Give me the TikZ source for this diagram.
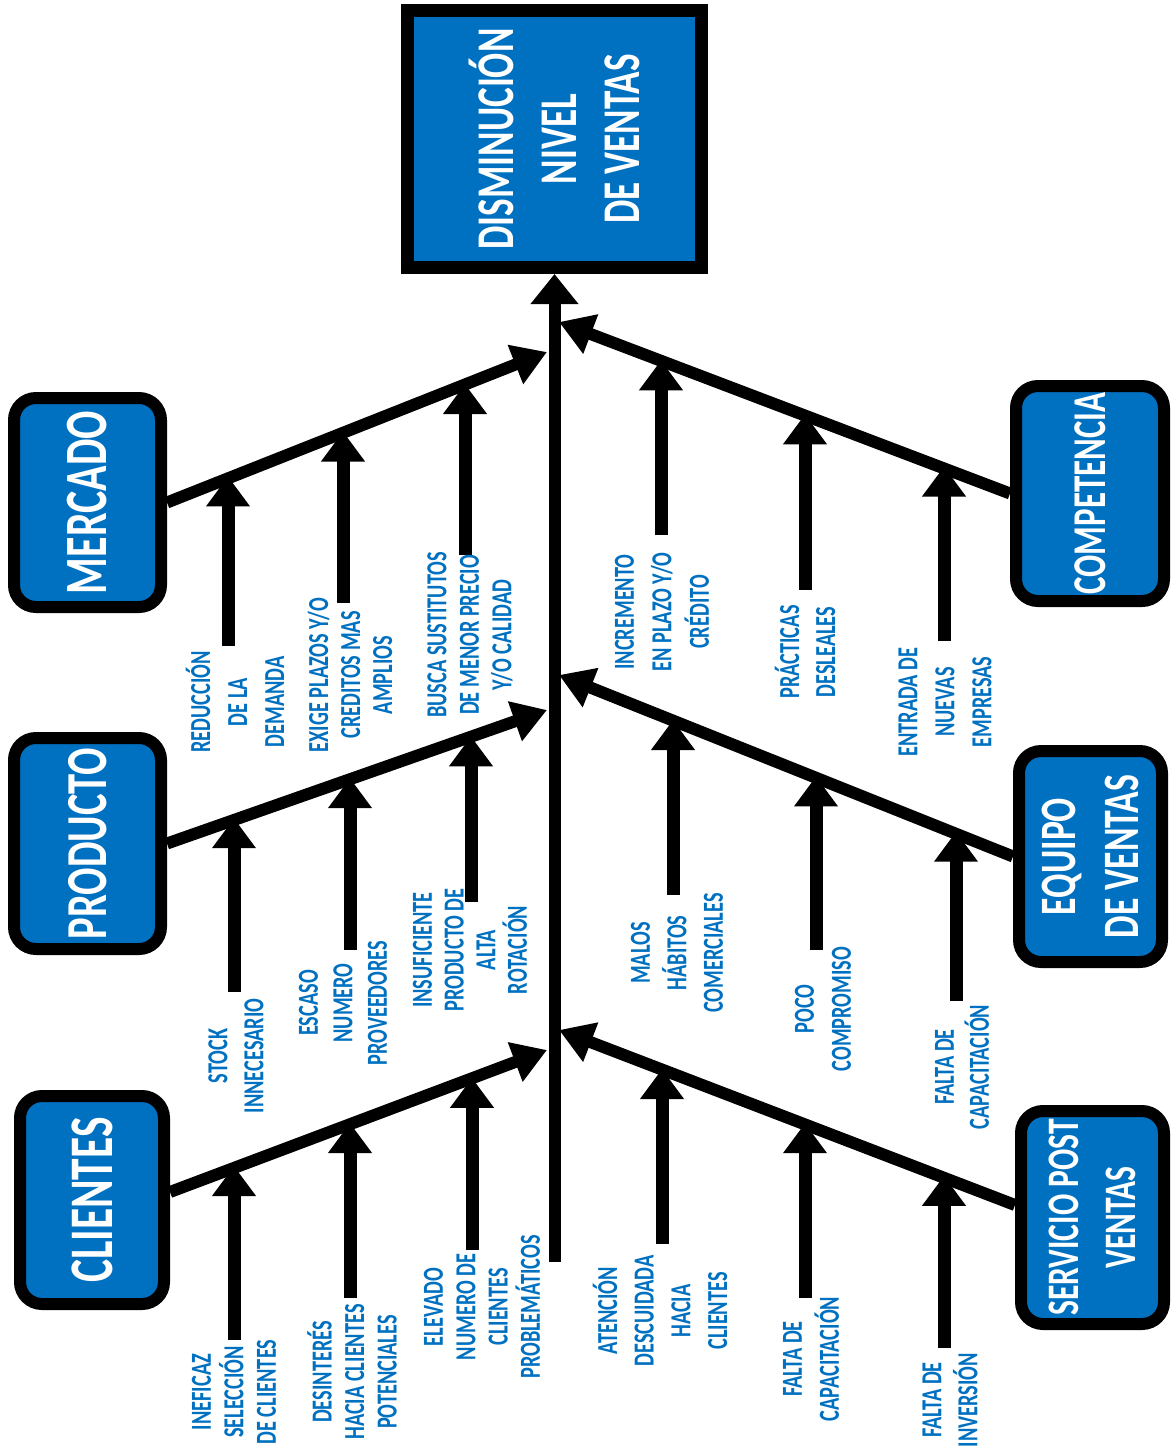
\documentclass[tikz,border=0pt]{standalone}
\usepackage{fontspec}
\setmainfont{Carlito}[FakeStretch=0.7]
\usetikzlibrary{arrows.meta}
\definecolor{azul}{HTML}{0070C0}
\begin{document}
\begin{tikzpicture}[x=1pt,y=-1pt,
  cat/.style={draw=black, line width=12pt, fill=azul, rounded corners=22pt, rotate=90,
    text=white, align=center, inner sep=0pt},
  lab/.style={rotate=90, text=azul, align=center, inner sep=0pt,
    font=\bfseries\fontsize{29}{#1}\selectfont},
  sub/.style={line width=13pt, -{Triangle[width=42pt,length=30pt]}},
  bone/.style={line width=12pt, -{Triangle[width=40pt,length=34pt]}},
  spine/.style={line width=12pt, -{Triangle[width=46pt,length=30pt]}}
]
\fill[white] (0,0) rectangle (1173,1452);
\useasboundingbox (0,0) rectangle (1173,1452);

% head
\node[cat, line width=13pt, rounded corners=0pt, minimum width=257pt, minimum height=294pt,
  font=\bfseries\fontsize{53}{63}\selectfont] (top) at (554.5,139) {DISMINUCIÓN\\NIVEL\\DE VENTAS};

% category boxes
\node[cat, minimum width=209pt, minimum height=147pt, font=\bfseries\fontsize{60}{62}\selectfont] (mer) at (87.5,502.5) {MERCADO};
\node[cat, minimum width=211pt, minimum height=147pt, font=\bfseries\fontsize{58}{62}\selectfont] (pro) at (87.5,843.5) {PRODUCTO};
\node[cat, minimum width=208pt, minimum height=144pt, font=\bfseries\fontsize{62}{62}\selectfont] (cli) at (92,1200) {CLIENTES};
\node[cat, minimum width=215pt, minimum height=148pt, font=\bfseries\fontsize{47}{62}\selectfont] (com) at (1090,493.5) {COMPETENCIA};
\node[cat, minimum width=211pt, minimum height=143pt, font=\bfseries\fontsize{51}{63}\selectfont] (equ) at (1090.5,856.5) {EQUIPO\\DE VENTAS};
\node[cat, minimum width=213pt, minimum height=143pt, font=\bfseries\fontsize{45}{57}\selectfont] (ser) at (1092.5,1217.5) {SERVICIO POST\\VENTAS};

% spine
\coordinate (sby) at (0,1262);
\coordinate (sb) at (top.west |- sby);
\draw[spine] (sb) -- (top.west);

% junctions on spine
\coordinate (jm) at (547,352);
\coordinate (jp) at (547,710);
\coordinate (jc) at (547,1050);
\coordinate (jk) at (559,322);
\coordinate (je) at (559,675);
\coordinate (js) at (559,1030);
\coordinate (cy) at (0,1192);
\coordinate (sy) at (0,1205);

% main bones
\draw[bone] (mer.south) -- (jm);
\draw[bone] (pro.south) -- (jp);
\draw[bone] (cli.south |- cy) -- (jc);
\draw[bone] (com.north) -- (jk);
\draw[bone] (equ.north) -- (je);
\draw[bone] (ser.north |- sy) -- (js);

% sub arrows: MERCADO
\coordinate (m1f) at (228,646);   \coordinate (m1t) at (228,476.4);
\coordinate (m2f) at (343,603);   \coordinate (m2t) at (343,431.5);
\coordinate (m3f) at (465,555);   \coordinate (m3t) at (465,384.0);
% PRODUCTO
\coordinate (p1f) at (234,992);   \coordinate (p1t) at (234,818.2);
\coordinate (p2f) at (350,950);   \coordinate (p2t) at (350,778.1);
\coordinate (p3f) at (471,902);   \coordinate (p3t) at (471,736.3);
% CLIENTES
\coordinate (c1f) at (234,1340);  \coordinate (c1t) at (234,1166.0);
\coordinate (c2f) at (350,1298);  \coordinate (c2t) at (350,1123.0);
\coordinate (c3f) at (472,1250);  \coordinate (c3t) at (472,1077.8);
% COMPETENCIA
\coordinate (k1f) at (661,535);   \coordinate (k1t) at (661,360.3);
\coordinate (k2f) at (805,590);   \coordinate (k2t) at (805,414.3);
\coordinate (k3f) at (944,641);   \coordinate (k3t) at (944,466.5);
% EQUIPO
\coordinate (e1f) at (673,895);   \coordinate (e1t) at (673,720.0);
\coordinate (e2f) at (816,950);   \coordinate (e2t) at (816,776.4);
\coordinate (e3f) at (956,1001);  \coordinate (e3t) at (956,831.7);
% SERVICIO
\coordinate (s1f) at (662,1244);  \coordinate (s1t) at (662,1069.0);
\coordinate (s2f) at (805,1298);  \coordinate (s2t) at (805,1123.2);
\coordinate (s3f) at (944,1348);  \coordinate (s3t) at (944,1175.8);

\foreach \a in {m1,m2,m3,p1,p2,p3,c1,c2,c3,k1,k2,k3,e1,e2,e3,s1,s2,s3}
  \draw[sub] (\a f) -- (\a t);

% labels MERCADO
\node[lab=37] (lm1) at (235,702) {REDUCCIÓN\\DE LA\\DEMANDA};
\node[lab=32] (lm2) at (350,675) {EXIGE PLAZOS Y/O\\CREDITOS MAS\\AMPLIOS};
\node[lab=32.5] (lm3) at (470,635) {BUSCA SUSTITUTOS\\DE MENOR PRECIO\\Y/O CALIDAD};
% labels PRODUCTO
\node[lab=36] (lp1) at (236,1056) {STOCK\\INNECESARIO};
\node[lab=34.5] (lp2) at (343,1003) {ESCASO\\NUMERO\\PROVEEDORES};
\node[lab=31.7] (lp3) at (470,950) {INSUFICIENTE\\PRODUCTO DE\\ALTA\\ROTACIÓN};
% labels CLIENTES
\node[lab=32.5] (lc1) at (234,1392) {INEFICAZ\\SELECCIÓN\\DE CLIENTES};
\node[lab=32.5] (lc2) at (352,1372) {DESINTERÉS\\HACIA CLIENTES\\POTENCIALES};
\node[lab=32.3] (lc3) at (482,1307) {ELEVADO\\NUMERO DE\\CLIENTES\\PROBLEMÁTICOS};
% labels COMPETENCIA
\node[lab=37.5] (lk1) at (662,612) {INCREMENTO\\EN PLAZO Y/O\\CRÉDITO};
\node[lab=36] (lk2) at (805,652) {PRÁCTICAS\\DESLEALES};
\node[lab=37] (lk3) at (945,702) {ENTRADA DE\\NUEVAS\\EMPRESAS};
% labels EQUIPO
\node[lab=36.5] (le1) at (677,953) {MALOS\\HÁBITOS\\COMERCIALES};
\node[lab=37] (le2) at (823,1009) {POCO\\COMPROMISO};
\node[lab=35] (le3) at (962,1067) {FALTA DE\\CAPACITACIÓN};
% labels SERVICIO
\node[lab=36.7] (ls1) at (660,1311) {ATENCIÓN\\DESCUIDADA\\HACIA\\CLIENTES};
\node[lab=37] (ls2) at (811,1359) {FALTA DE\\CAPACITACIÓN};
\node[lab=36] (ls3) at (950,1400) {FALTA DE\\INVERSIÓN};
\end{tikzpicture}
\end{document}
